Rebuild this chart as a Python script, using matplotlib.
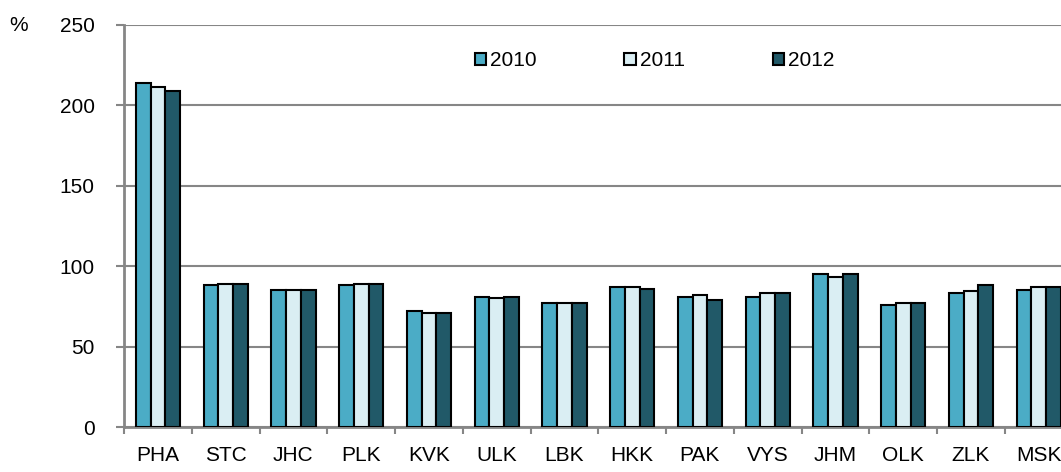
import numpy as np
import matplotlib
matplotlib.use('Agg')
import matplotlib.pyplot as plt
from matplotlib.patches import Patch

plt.rcParams['font.family'] = ['Liberation Sans', 'DejaVu Sans']

# Data
regions = ['PHA', 'STC', 'JHC', 'PLK', 'KVK', 'ULK', 'LBK',
           'HKK', 'PAK', 'VYS', 'JHM', 'OLK', 'ZLK', 'MSK']
years = ['2010', '2011', '2012']
v2010 = [214, 88, 85, 88, 72, 81, 77, 87, 81, 81, 95, 76, 83.5, 85]
v2011 = [211.5, 89, 85, 89, 71, 80, 77, 87, 82, 83.5, 93.5, 77.3, 84.6, 87]
v2012 = [209, 89, 85, 89, 71, 81, 77, 86, 79, 83.5, 95, 77.3, 88.5, 87]
colors = ['#4BACC6', '#DAEEF3', '#215968']

grey = '#868686'
fs = 15

fig = plt.figure(figsize=(10.61, 4.72), dpi=100)
ax = fig.add_axes([0.1169, 0.0953, 0.894, 0.852])

x = np.arange(len(regions))
w = 0.218
for i, (vals, c) in enumerate(zip([v2010, v2011, v2012], colors)):
    ax.bar(x + (i - 1) * w, vals, width=w, color=c, edgecolor='black',
           linewidth=1.5, zorder=3)

ax.set_xlim(-0.5, len(regions) - 0.5)
ax.set_ylim(0, 250)
ax.set_yticks([0, 50, 100, 150, 200, 250])
ax.yaxis.grid(True, color=grey, linewidth=1.5, zorder=0)

ax.set_xticks(x)
ax.set_xticklabels(regions)
ax.set_xticks(np.arange(-0.5, len(regions)), minor=True)
ax.tick_params(axis='x', which='major', length=0, pad=14, labelsize=fs)
ax.tick_params(axis='x', which='minor', length=5, width=1.5, color=grey)
ax.tick_params(axis='y', length=6, width=1.5, color=grey, labelsize=fs, pad=15)

for s in ['top', 'right']:
    ax.spines[s].set_visible(False)
for s in ['left', 'bottom']:
    ax.spines[s].set_color(grey)
    ax.spines[s].set_linewidth(2)

fig.text(0.009, 0.947, '%', fontsize=fs, va='center', ha='left')

handles = [Patch(facecolor=c, edgecolor='black', linewidth=1.5) for c in colors]
ax.legend(handles, years, ncol=3, frameon=False, fontsize=fs,
          handlelength=0.55, handleheight=0.55, handletextpad=0.2,
          columnspacing=4.2, loc='center', bbox_to_anchor=(0.617, 0.871),
          bbox_transform=fig.transFigure)

fig.savefig('out.png', dpi=100)
